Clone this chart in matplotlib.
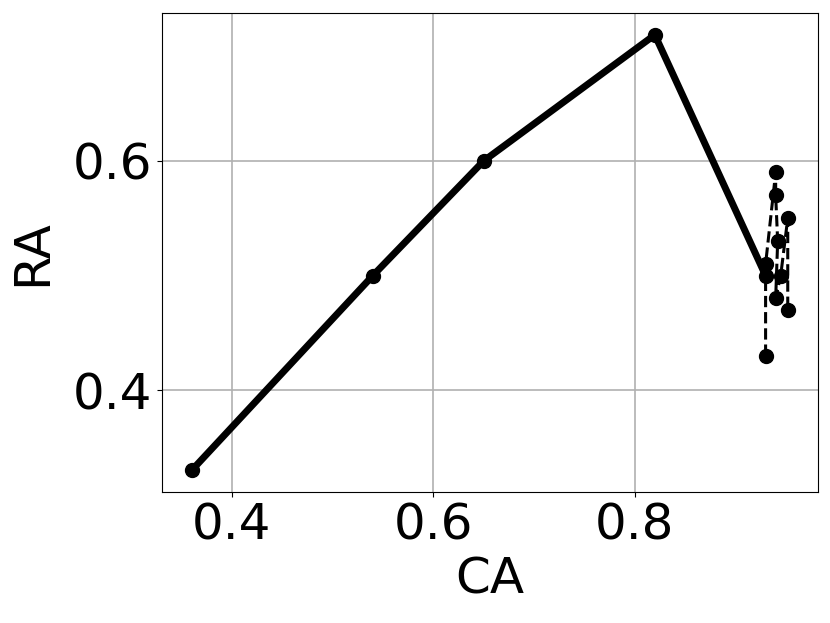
import matplotlib
matplotlib.use("Agg")
import matplotlib.pyplot as plt

ca_main = [0.36, 0.54, 0.65, 0.82, 0.93]
ra_main = [0.33, 0.50, 0.60, 0.71, 0.50]

ca_dash = [0.93, 0.93, 0.94, 0.94, 0.942, 0.94, 0.945, 0.952, 0.952]
ra_dash = [0.43, 0.51, 0.59, 0.57, 0.53, 0.48, 0.50, 0.55, 0.47]

fig, ax = plt.subplots(figsize=(8.3, 6.23), dpi=100)
fig.subplots_adjust(left=0.195, right=0.985, top=0.979, bottom=0.21)
ax.plot(ca_main, ra_main, '-o', color='black', lw=5, ms=10)
ax.plot(ca_dash, ra_dash, '--o', color='black', lw=2.2, ms=10)
ax.grid(True, color='#b0b0b0', lw=1.2)
ax.set_axisbelow(True)
ax.set_xticks([0.4, 0.6, 0.8])
ax.set_yticks([0.4, 0.6])
ax.tick_params(labelsize=36)
ax.set_xlabel('CA', fontsize=36)
ax.set_ylabel('RA', fontsize=36, labelpad=12)
fig.savefig('out.png')
